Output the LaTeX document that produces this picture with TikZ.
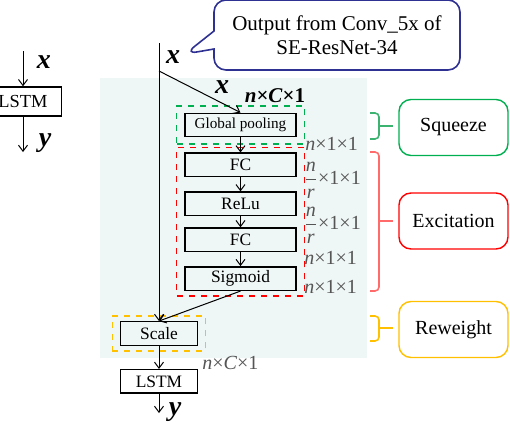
\documentclass[tikz,border=0pt]{standalone}
\usepackage{amsmath}
\usepackage{fontspec}
\setmainfont{Liberation Serif}
\usepackage{xcolor}
\usetikzlibrary{arrows.meta,positioning,shapes.callouts,fit}

\definecolor{bgcyan}{HTML}{EFF7F6}
\definecolor{navyline}{HTML}{2E3192}
\definecolor{sqgreen}{HTML}{00B050}
\definecolor{sqbrace}{HTML}{3CB371}
\definecolor{exred}{HTML}{FF0000}
\definecolor{exbrace}{HTML}{FF6B6B}
\definecolor{rwgold}{HTML}{FFC000}
\definecolor{dimgray}{HTML}{555555}

\begin{document}
\begin{tikzpicture}[
  x=0.5pt, y=-0.5pt,
  font=\fontsize{10}{12}\selectfont,
  node distance=7pt,
  box/.style={rectangle, draw, line width=0.7pt, inner sep=1pt,
              minimum width=55.5pt, minimum height=11.75pt,
              font=\fontsize{8.7}{10}\selectfont},
  smallbox/.style={box, minimum width=38.5pt},
  grp/.style={rectangle, draw, dashed, line width=0.6pt,
              inner xsep=3.75pt, inner ysep=2.5pt},
  tag/.style={rectangle, draw, rounded corners=6pt, line width=0.7pt,
              minimum width=54.5pt, minimum height=28pt},
  arr/.style={-{Straight Barb[length=3pt,width=4.5pt]}, line width=0.5pt},
  var/.style={inner sep=0pt, font=\fontsize{14}{14}\selectfont\bfseries\itshape},
  dim/.style={anchor=west, inner sep=0pt, text=dimgray},
  brk/.style={line width=0.8pt, rounded corners=2pt},
]
\useasboundingbox (0,0) rectangle (510,424);

% Plain LSTM, left
\coordinate (lin) at (23,51);
\node[smallbox, minimum height=14.5pt, font=\fontsize{9.2}{10}\selectfont]
  (lstmL) at (23,101.5) {LSTM};
\coordinate (lout) at (23,152);
\draw[arr] (lin) -- (lstmL);
\draw[arr] (lstmL) -- (lout);
\node[var] at (44,62) {x};
\node[var] at (45,143) {y};

% Shaded SE block
\fill[bgcyan] (100,78) rectangle (367,358);

% Squeeze and excitation column
\node[box, font=\fontsize{7.6}{9}\selectfont] (gp) at (240.5,125) {Global pooling};
\node[box, below=7.5pt of gp] (fc1) {FC};
\node[box, below=of fc1] (relu) {ReLu};
\node[box, below=5.5pt of relu] (fc2) {FC};
\node[box, below=of fc2] (sig) {Sigmoid};

% Scale and LSTM
\node[smallbox] (scale) at (159,333.5) {Scale};
\node[smallbox, below=11.5pt of scale] (lstm) {LSTM};

% Dashed groups
\node[grp, draw=sqgreen, inner ysep=3.25pt, fit=(gp)] (sqgrp) {};
\node[grp, draw=exred, fit=(fc1)(sig)] (exgrp) {};
\node[grp, draw=rwgold, fit=(scale)] (rwgrp) {};

% Input from Conv_5x
\coordinate (xin) at (159,43);
\coordinate (split) at (159,71);
\coordinate (xtip) at (185,54);
\node[rectangle callout, draw=navyline, line width=0.8pt, rounded corners=6pt,
      minimum width=123pt, minimum height=35pt, align=center,
      font=\fontsize{10.5}{12}\selectfont,
      callout absolute pointer={(xtip)}, callout pointer width=9pt]
  (note) at (337,35) {Output from Conv\_5x of\\SE-ResNet-34};
\node[var] at (173,57) {x};
\node[var] at (222,87) {x};
\node[inner sep=0pt, font=\fontsize{10.5}{12}\selectfont\bfseries] at (275,96)
  {\textit{n}×\textit{C}×1};

% Arrows
\draw[line width=0.5pt] (xin) -- (split);
\draw[arr] (split) -- (scale.north);
\draw[arr] (split) -- (gp.north);
\draw[arr] (gp) -- (fc1);
\draw[arr] (fc1) -- (relu);
\draw[arr] (relu) -- (fc2);
\draw[arr] (fc2) -- (sig);
\draw[arr] (sig.south) -- (scale.north);
\draw[arr] (scale) -- (lstm);
\coordinate (yout) at (159,413);
\draw[arr] (lstm) -- (yout);
\node[var] at (175,412) {y};

% Tensor sizes
\node[dim] at (305,144) {\textit{n}×1×1};
\node[dim] at (303,180) {$\displaystyle\frac{\mbox{\itshape n}}{\mbox{\itshape r}}$×1×1};
\node[dim] at (303,225) {$\displaystyle\frac{\mbox{\itshape n}}{\mbox{\itshape r}}$×1×1};
\node[dim] at (304,258) {\textit{n}×1×1};
\node[dim] at (304,287) {\textit{n}×1×1};
\node[dim] at (202,363) {\textit{n}×\textit{C}×1};

% Stage labels with brackets
\node[tag, draw=sqgreen] (squeeze) at (453.5,127.5) {Squeeze};
\node[tag, draw=exred] (excite) at (453.5,221) {Excitation};
\node[tag, draw=rwgold] (reweight) at (453.5,329.5) {Reweight};
\draw[brk, sqbrace] (370,113) -| (379,139) -- (370,139);
\draw[brk, sqbrace] (379,126) -- (393,126);
\draw[brk, exbrace] (370,152) -| (379,291) -- (370,291);
\draw[brk, exbrace] (379,221) -- (393,221);
\draw[brk, rwgold] (370,316) -| (379,341) -- (370,341);
\draw[brk, rwgold] (379,328) -- (393,328);
\end{tikzpicture}
\end{document}
